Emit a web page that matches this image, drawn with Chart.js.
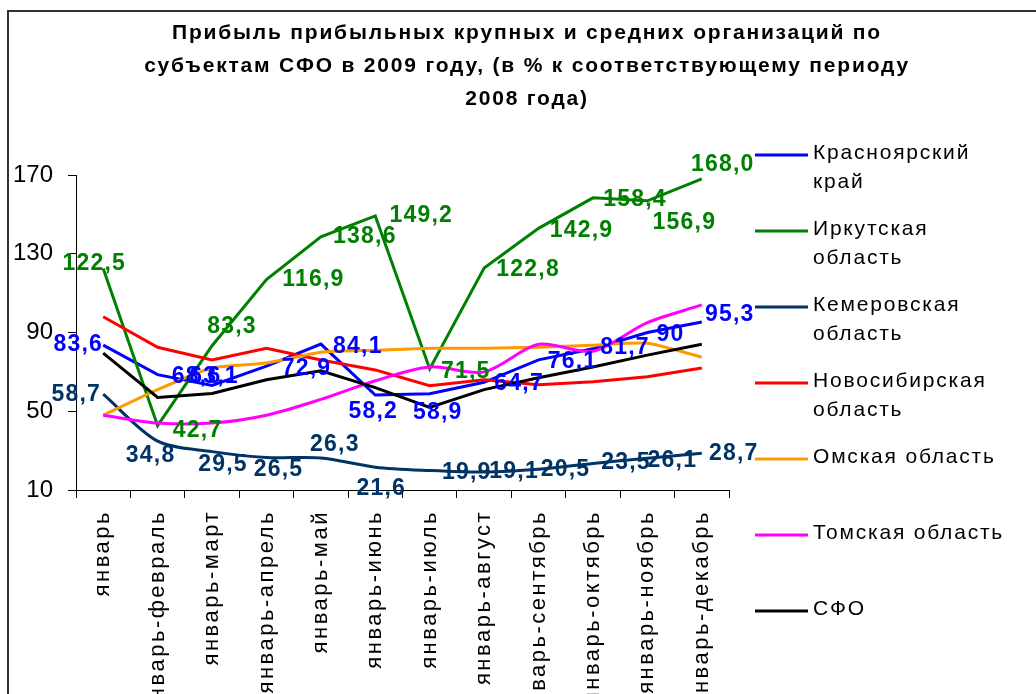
<!DOCTYPE html>
<html lang="ru">
<head>
<meta charset="utf-8">
<title>Прибыль прибыльных организаций СФО, 2009</title>
<script src="https://cdn.jsdelivr.net/npm/chart.js@4.4.1/dist/chart.umd.min.js"></script>
<style>
    html, body { margin: 0; padding: 0; background: #fff; }
</style>
</head>
<body>
<canvas id="graficoLucro" width="1036" height="694"></canvas>
<script>
// Dados (% em relação ao mesmo período de 2008)
const categorias = ['январь', 'январь-февраль', 'январь-март', 'январь-апрель', 'январь-май', 'январь-июнь',
    'январь-июль', 'январь-август', 'январь-сентябрь', 'январь-октябрь', 'январь-ноябрь', 'январь-декабрь'];
const krasnoyarsk = [83.6, 68.6, 63.1, 72.9, 84.1, 58.2, 58.9, 64.7, 76.1, 81.7, 90, 95.3];
const irkutsk = [122.5, 42.7, 83.3, 116.9, 138.6, 149.2, 71.5, 122.8, 142.9, 158.4, 156.9, 168.0];
const kemerovo = [58.7, 34.8, 29.5, 26.5, 26.3, 21.6, 19.9, 19.1, 20.5, 23.5, 26.1, 28.7];
const novosibirsk = [98, 82.5, 76, 82, 76, 71, 63, 66, 63.5, 65, 67.5, 72];
const omsk = [48, 61, 72, 74.5, 80, 81, 82, 82, 82.5, 83.5, 84.5, 77.5];
const tomsk = [48, 44, 44, 48, 56, 65.5, 72.5, 70, 84, 80.5, 95, 104];
const sfo = [79.5, 57, 59, 66, 70.5, 62, 52, 61, 67, 72.5, 78.5, 84];
const ticksY = [10, 50, 90, 130, 170];

const titulo = [
    'Прибыль прибыльных крупных и средних организаций по',
    'субъектам СФО в 2009 году, (в % к соответствующему периоду',
    '2008 года)'
];
const legendaLinhas = [
    ['Красноярский', 'край'],
    ['Иркутская', 'область'],
    ['Кемеровская', 'область'],
    ['Новосибирская', 'область'],
    ['Омская область'],
    ['Томская область'],
    ['СФО']
];

// Deslocamento dos rótulos (dx, dy) em relação a cada ponto
const deslocKrasnoyarsk = [[-25, 0], [39, 2], [2, -9], [40, 2], [37, 3], [-2, 17], [8, 19], [35, 1], [34, 2], [32, -1], [23, 2], [28, -7]];
const deslocIrkutsk = [[-9, -5], [40, 5], [20, -19], [47, 0], [44, 0], [46, 0], [36, 3], [44, 2], [43, 2], [42, 2], [37, 22], [21, -14]];
const deslocKemerovo = [[-27, 1], [-7, 14], [11, 13], [12, 12], [14, -13], [6, 21], [37, 2], [30, 0], [27, 0], [33, -1], [25, 2], [32, 0]];

const fonte = '"Liberation Sans", Arial, sans-serif';
const virgula = v => String(v).replace('.', ',');
const umaCasa = v => v.toFixed(1).replace('.', ',');

function serie(nome, dados, cor, ordem, tensao, rotulos) {
    return {
        label: nome,
        data: dados,
        borderColor: cor,
        backgroundColor: cor,
        borderWidth: 3,
        pointRadius: 0,
        tension: tensao,
        order: ordem,
        rotulos: rotulos
    };
}

// Moldura, rótulos de dados, legenda e título
const pluginExtras = {
    id: 'extras',
    beforeDraw(chart) {
        const ctx = chart.ctx;
        ctx.save();
        ctx.strokeStyle = '#333';
        ctx.lineWidth = 2;
        ctx.beginPath();
        ctx.moveTo(8, 694);
        ctx.lineTo(8, 11);
        ctx.lineTo(1036, 11);
        ctx.stroke();
        ctx.restore();
        ctx.letterSpacing = '0px';
    },
    afterDatasetsDraw(chart) {
        const ctx = chart.ctx;
        ctx.save();
        ctx.font = 'bold 23px ' + fonte;
        ctx.letterSpacing = '1.2px';
        ctx.textAlign = 'center';
        ctx.textBaseline = 'middle';
        chart.data.datasets.forEach((ds, i) => {
            if (!ds.rotulos) return;
            ctx.fillStyle = ds.borderColor;
            chart.getDatasetMeta(i).data.forEach((pt, j) => {
                const [dx, dy] = ds.rotulos.desloc[j];
                ctx.fillText(ds.rotulos.formato(ds.data[j]), pt.x + dx, pt.y + dy);
            });
        });
        ctx.restore();
        // os rótulos do eixo x são desenhados depois (ticks.z = 1)
        ctx.letterSpacing = '2.5px';
    },
    afterDraw(chart) {
        const ctx = chart.ctx;
        ctx.save();
        ctx.letterSpacing = '1.8px';
        ctx.font = '21px ' + fonte;
        ctx.textBaseline = 'middle';
        ctx.textAlign = 'left';
        chart.data.datasets.forEach((ds, i) => {
            const y = 155 + i * 76;
            ctx.strokeStyle = ds.borderColor;
            ctx.lineWidth = 3;
            ctx.beginPath();
            ctx.moveTo(755, y);
            ctx.lineTo(808, y);
            ctx.stroke();
            ctx.fillStyle = '#000';
            legendaLinhas[i].forEach((t, k) => ctx.fillText(t, 813, y - 2 + k * 29));
        });
        ctx.font = 'bold 21px ' + fonte;
        ctx.letterSpacing = '1.8px';
        ctx.textAlign = 'center';
        titulo.forEach((t, k) => ctx.fillText(t, 527, 33 + k * 33));
        ctx.restore();
        ctx.letterSpacing = '0px';
    }
};

new Chart(document.getElementById('graficoLucro'), {
    type: 'line',
    data: {
        labels: categorias,
        datasets: [
            serie('Красноярский край', krasnoyarsk, '#0000FF', 6, 0, { desloc: deslocKrasnoyarsk, formato: virgula }),
            serie('Иркутская область', irkutsk, '#008000', 5, 0, { desloc: deslocIrkutsk, formato: umaCasa }),
            serie('Кемеровская область', kemerovo, '#003366', 4, 0.3, { desloc: deslocKemerovo, formato: virgula }),
            serie('Новосибирская область', novosibirsk, '#FF0000', 3, 0, null),
            serie('Омская область', omsk, '#FF9900', 2, 0.2, null),
            serie('Томская область', tomsk, '#FF00FF', 1, 0.3, null),
            serie('СФО', sfo, '#000000', 0, 0, null)
        ]
    },
    options: {
        responsive: false,
        animation: false,
        layout: { padding: { top: 175, right: 307, left: 0, bottom: 0 } },
        plugins: {
            legend: { display: false },
            title: { display: false },
            tooltip: { enabled: false }
        },
        scales: {
            x: {
                offset: true,
                grid: { offset: true, drawOnChartArea: false, tickLength: 8, color: '#000' },
                border: { color: '#000', width: 1 },
                ticks: {
                    autoSkip: false, minRotation: 90, maxRotation: 90, padding: 12, z: 1,
                    color: '#000', font: { family: fonte, size: 22 }
                },
                afterFit(s) { s.height = 204; }
            },
            y: {
                min: 10,
                max: 170,
                afterBuildTicks(s) { s.ticks = ticksY.map(v => ({ value: v })); },
                grid: { drawOnChartArea: false, tickLength: 8, color: '#000' },
                border: { color: '#000', width: 1 },
                ticks: { padding: 15, color: '#000', font: { family: fonte, size: 24 } },
                afterFit(s) { s.width = 76; }
            }
        }
    },
    plugins: [pluginExtras]
});
</script>
</body>
</html>
